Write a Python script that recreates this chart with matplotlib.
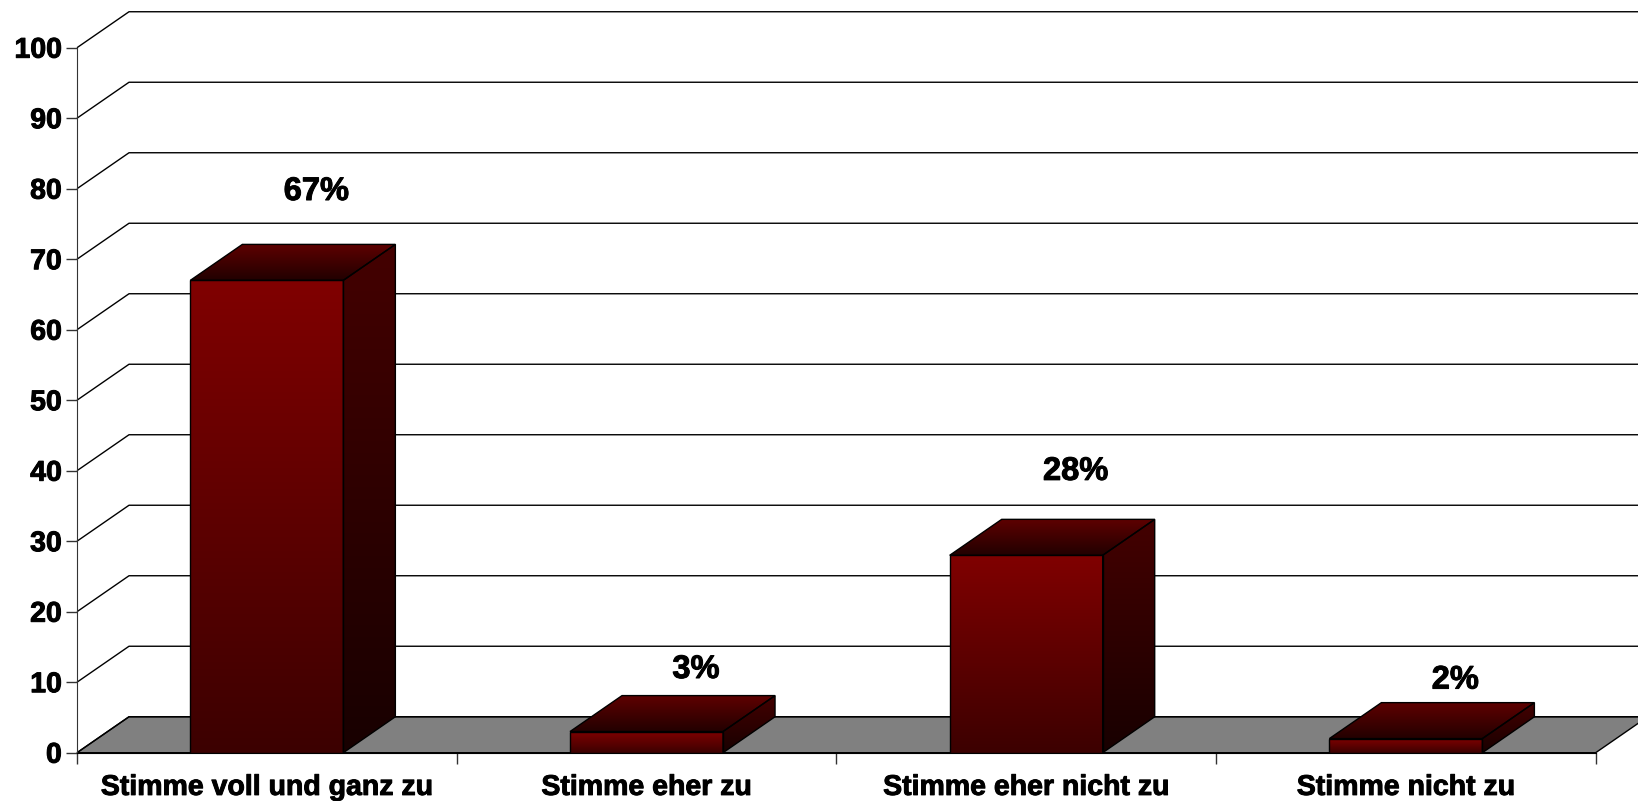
import matplotlib.pyplot as plt
import matplotlib.patheffects as pe
import numpy as np
from matplotlib.patches import Polygon
from matplotlib.colors import LinearSegmentedColormap

plt.rcParams['font.family'] = ['Liberation Sans', 'DejaVu Sans']
plt.rcParams['font.weight'] = 'bold'

categories = ['Stimme voll und ganz zu', 'Stimme eher zu',
              'Stimme eher nicht zu', 'Stimme nicht zu']
values = [67, 3, 28, 2]
yticks = [0, 10, 20, 30, 40, 50, 60, 70, 80, 90, 100]

# fake 3d depth, in data units
DX = 0.137
DY = 5.1
BAR_W = 0.403
label_dy = [12.6, 8.8, 11.9, 8.3]

heavy = [pe.withStroke(linewidth=0.7, foreground='black')]

fig = plt.figure(figsize=(16.38, 8.01), dpi=100)
ax = fig.add_axes([77 / 1638, 48.3 / 801, (1595.7 - 77) / 1638, 705 / 801])

def shade(poly, top, bottom, z):
    # vertical gradient clipped to a polygon
    cm = LinearSegmentedColormap.from_list('g', [bottom, top])
    ys = poly.get_xy()[:, 1]
    xs = poly.get_xy()[:, 0]
    grad = np.linspace(0, 1, 256).reshape(-1, 1)
    im = ax.imshow(grad, extent=(xs.min(), xs.max(), ys.min(), ys.max()),
                   origin='lower', aspect='auto', cmap=cm, zorder=z)
    im.set_clip_path(poly)

# floor
floor = Polygon([(0, 0), (4, 0), (4 + DX, DY), (DX, DY)], closed=True,
                facecolor='#808080', edgecolor='black', lw=1.0,
                clip_on=False, zorder=1)
ax.add_patch(floor)

# back wall gridlines with diagonal connectors
for t in yticks:
    ax.plot([0, DX, 4 + 0.12], [t, t + DY, t + DY], color='black', lw=1.0,
            clip_on=False, zorder=1.5, solid_capstyle='butt')

# bar front faces
centers = np.arange(len(values)) + 0.5
bars = ax.bar(centers, values, width=BAR_W, facecolor='none',
              edgecolor='black', lw=1.0, zorder=4)

for i, (b, v) in enumerate(zip(bars, values)):
    x0 = b.get_x()
    x1 = x0 + b.get_width()
    front = Polygon([(x0, 0), (x1, 0), (x1, v), (x0, v)], closed=True,
                    facecolor='none', edgecolor='none')
    ax.add_patch(front)
    shade(front, '#800000', '#3c0000', 3)

    side = Polygon([(x1, 0), (x1 + DX, DY), (x1 + DX, v + DY), (x1, v)],
                   closed=True, facecolor='none', edgecolor='black', lw=1.0,
                   zorder=4)
    ax.add_patch(side)
    shade(side, '#440000', '#180000', 3)

    top = Polygon([(x0, v), (x1, v), (x1 + DX, v + DY), (x0 + DX, v + DY)],
                  closed=True, facecolor='none', edgecolor='black', lw=1.0,
                  zorder=4)
    ax.add_patch(top)
    shade(top, '#5e0000', '#220000', 3)

    ax.text(b.get_x() + b.get_width() / 2 + 0.13, v + label_dy[i], f'{v}%',
            ha='center', va='center', fontsize=23.5, fontweight='bold',
            path_effects=heavy)

ax.set_xlim(0, 4)
ax.set_ylim(0, 100)

for s in ['top', 'right']:
    ax.spines[s].set_visible(False)
ax.spines['left'].set_color('#333333')
ax.spines['bottom'].set_color('black')
ax.spines['left'].set_zorder(2)

ax.set_yticks(yticks)
ax.set_yticklabels([str(t) for t in yticks], fontsize=20.5, fontweight='bold')
ax.tick_params(axis='y', length=8, width=1.0, color='#333333', pad=3)

ax.set_xticks([0, 1, 2, 3, 4])
ax.set_xticklabels([])
ax.tick_params(axis='x', which='major', length=7.7, width=1.0, color='#333333')
ax.set_xticks(centers, categories, minor=True)
ax.tick_params(axis='x', which='minor', length=0, pad=16, labelsize=20.5)
for lab in ax.get_xticklabels(minor=True) + ax.get_yticklabels():
    lab.set_fontweight('bold')
    lab.set_path_effects(heavy)

ax.patch.set_alpha(0)
fig.savefig('out.png', dpi=100, facecolor='white')
